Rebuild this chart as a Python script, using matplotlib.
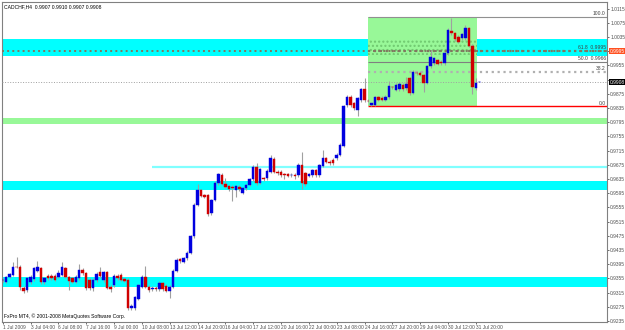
import numpy as np
import matplotlib
matplotlib.use("Agg")
import matplotlib.pyplot as plt
import matplotlib.transforms as mtransforms

plt.rcParams['font.family'] = ['Liberation Sans', 'DejaVu Sans']

# CADCHF H4, July 2009
opens = [0.9350, 0.9346, 0.9358, 0.9365, 0.9388, 0.9386, 0.9329, 0.9322, 0.9346, 0.9352,
         0.9377, 0.9383, 0.9344, 0.9362, 0.9363, 0.9362, 0.9360, 0.9365, 0.9383, 0.9358,
         0.9355, 0.9346, 0.9355, 0.9379, 0.9369, 0.9350, 0.9327, 0.9350, 0.9372, 0.9350,
         0.9372, 0.9332, 0.9336, 0.9362, 0.9365, 0.9353, 0.9350, 0.9271, 0.9271, 0.9298,
         0.9332, 0.9360, 0.9332, 0.9324, 0.9329, 0.9324, 0.9341, 0.9334, 0.9319, 0.9332,
         0.9377, 0.9409, 0.9402, 0.9412, 0.9427, 0.9473, 0.9562, 0.9604, 0.9590, 0.9590,
         0.9538, 0.9576, 0.9623, 0.9646, 0.9621, 0.9615, 0.9613, 0.9604, 0.9613, 0.9596,
         0.9609, 0.9618, 0.9634, 0.9670, 0.9625, 0.9637, 0.9637, 0.9656, 0.9691, 0.9656,
         0.9656, 0.9649, 0.9648, 0.9646, 0.9647, 0.9646, 0.9675, 0.9651, 0.9644, 0.9645,
         0.9660, 0.9646, 0.9672, 0.9693, 0.9684, 0.9689, 0.9693, 0.9703, 0.9728, 0.9843,
         0.9867, 0.9848, 0.9830, 0.9858, 0.9888, 0.9856, 0.9843, 0.9843, 0.9865, 0.9864,
         0.9858, 0.9865, 0.9894, 0.9886, 0.9888, 0.9900, 0.9890, 0.9919, 0.9878, 0.9934,
         0.9934, 0.9928, 0.9906, 0.9953, 0.9961, 0.9970, 0.9965, 0.9961, 0.9989, 1.0053,
         1.0045, 1.0036, 1.0031, 1.0031, 1.0059, 1.0010, 0.9890, 0.9907]
highs = [0.9356, 0.9362, 0.9370, 0.9402, 0.9416, 0.9392, 0.9333, 0.9360, 0.9364, 0.9388,
         0.9404, 0.9388, 0.9360, 0.9366, 0.9368, 0.9367, 0.9379, 0.9400, 0.9388, 0.9362,
         0.9360, 0.9365, 0.9396, 0.9384, 0.9373, 0.9355, 0.9356, 0.9372, 0.9388, 0.9377,
         0.9377, 0.9336, 0.9367, 0.9366, 0.9369, 0.9357, 0.9355, 0.9282, 0.9306, 0.9340,
         0.9365, 0.9391, 0.9336, 0.9334, 0.9333, 0.9348, 0.9345, 0.9338, 0.9336, 0.9381,
         0.9411, 0.9413, 0.9416, 0.9432, 0.9478, 0.9566, 0.9621, 0.9608, 0.9594, 0.9594,
         0.9580, 0.9628, 0.9653, 0.9651, 0.9637, 0.9619, 0.9617, 0.9619, 0.9617, 0.9613,
         0.9622, 0.9638, 0.9674, 0.9681, 0.9667, 0.9641, 0.9662, 0.9703, 0.9696, 0.9660,
         0.9660, 0.9653, 0.9652, 0.9651, 0.9651, 0.9680, 0.9712, 0.9656, 0.9652, 0.9664,
         0.9664, 0.9678, 0.9717, 0.9697, 0.9688, 0.9693, 0.9707, 0.9735, 0.9844, 0.9872,
         0.9872, 0.9853, 0.9866, 0.9892, 0.9919, 0.9860, 0.9849, 0.9869, 0.9869, 0.9868,
         0.9871, 0.9911, 0.9898, 0.9904, 0.9907, 0.9904, 0.9923, 0.9923, 0.9941, 0.9938,
         0.9938, 0.9932, 0.9957, 0.9998, 0.9979, 0.9974, 0.9969, 0.9993, 1.0059, 1.0088,
         1.0049, 1.0040, 1.0047, 1.0069, 1.0063, 1.0014, 0.9919, 0.9910]
lows = [0.9345, 0.9343, 0.9355, 0.9362, 0.9383, 0.9322, 0.9313, 0.9318, 0.9340, 0.9348,
        0.9373, 0.9340, 0.9340, 0.9351, 0.9350, 0.9347, 0.9356, 0.9361, 0.9355, 0.9322,
        0.9341, 0.9341, 0.9350, 0.9365, 0.9322, 0.9321, 0.9320, 0.9345, 0.9357, 0.9346,
        0.9325, 0.9316, 0.9332, 0.9351, 0.9347, 0.9344, 0.9267, 0.9266, 0.9267, 0.9293,
        0.9327, 0.9327, 0.9318, 0.9319, 0.9320, 0.9320, 0.9320, 0.9316, 0.9299, 0.9328,
        0.9373, 0.9399, 0.9398, 0.9408, 0.9423, 0.9469, 0.9558, 0.9583, 0.9581, 0.9531,
        0.9534, 0.9572, 0.9619, 0.9617, 0.9609, 0.9602, 0.9574, 0.9585, 0.9602, 0.9592,
        0.9605, 0.9614, 0.9630, 0.9619, 0.9620, 0.9630, 0.9633, 0.9652, 0.9652, 0.9647,
        0.9642, 0.9635, 0.9640, 0.9641, 0.9634, 0.9642, 0.9606, 0.9616, 0.9640, 0.9640,
        0.9640, 0.9642, 0.9668, 0.9680, 0.9675, 0.9675, 0.9689, 0.9699, 0.9724, 0.9839,
        0.9839, 0.9830, 0.9812, 0.9853, 0.9853, 0.9851, 0.9840, 0.9840, 0.9854, 0.9854,
        0.9854, 0.9861, 0.9889, 0.9882, 0.9884, 0.9884, 0.9886, 0.9872, 0.9874, 0.9929,
        0.9924, 0.9881, 0.9902, 0.9949, 0.9957, 0.9955, 0.9957, 0.9957, 0.9985, 1.0041,
        1.0024, 1.0018, 1.0027, 1.0027, 1.0006, 0.9874, 0.9886, 0.9907]
closes = [0.9351, 0.9358, 0.9366, 0.9388, 0.9387, 0.9332, 0.9320, 0.9355, 0.9358, 0.9383,
          0.9388, 0.9346, 0.9355, 0.9355, 0.9355, 0.9351, 0.9369, 0.9386, 0.9360, 0.9349,
          0.9346, 0.9360, 0.9379, 0.9369, 0.9327, 0.9327, 0.9350, 0.9366, 0.9362, 0.9372,
          0.9329, 0.9326, 0.9362, 0.9355, 0.9351, 0.9348, 0.9271, 0.9277, 0.9302, 0.9335,
          0.9360, 0.9332, 0.9322, 0.9329, 0.9324, 0.9343, 0.9324, 0.9320, 0.9332, 0.9377,
          0.9407, 0.9403, 0.9412, 0.9427, 0.9474, 0.9562, 0.9604, 0.9587, 0.9585, 0.9536,
          0.9576, 0.9623, 0.9648, 0.9621, 0.9613, 0.9606, 0.9609, 0.9615, 0.9606, 0.9609,
          0.9618, 0.9634, 0.9670, 0.9623, 0.9662, 0.9634, 0.9658, 0.9693, 0.9656, 0.9651,
          0.9646, 0.9645, 0.9644, 0.9646, 0.9644, 0.9675, 0.9623, 0.9621, 0.9648, 0.9660,
          0.9645, 0.9674, 0.9693, 0.9684, 0.9679, 0.9679, 0.9703, 0.9731, 0.9840, 0.9867,
          0.9843, 0.9834, 0.9862, 0.9888, 0.9858, 0.9855, 0.9848, 0.9865, 0.9858, 0.9858,
          0.9867, 0.9897, 0.9893, 0.9900, 0.9903, 0.9888, 0.9903, 0.9876, 0.9937, 0.9933,
          0.9928, 0.9904, 0.9953, 0.9979, 0.9975, 0.9959, 0.9961, 0.9989, 1.0055, 1.0045,
          1.0028, 1.0022, 1.0043, 1.0059, 1.0010, 0.9895, 0.9906, 0.9908]

time_labels = ["1 Jul 2009", "3 Jul 04:00", "6 Jul 08:00", "7 Jul 16:00", "9 Jul 00:00",
               "10 Jul 08:00", "13 Jul 12:00", "14 Jul 20:00", "16 Jul 04:00", "17 Jul 12:00",
               "20 Jul 16:00", "22 Jul 00:00", "23 Jul 08:00", "24 Jul 16:00", "27 Jul 20:00",
               "29 Jul 04:00", "30 Jul 12:00", "31 Jul 20:00"]
label_step = 8  # bars between time labels

price_ticks = [0.9235, 0.9275, 0.9315, 0.9355, 0.9395, 0.9435, 0.9475, 0.9515, 0.9555,
               0.9595, 0.9635, 0.9675, 0.9715, 0.9755, 0.9795, 0.9835, 0.9875, 0.9915,
               0.9955, 0.9995, 1.0035, 1.0075, 1.0115]
hidden_ticks = [0.9915, 0.9995]  # covered by the price boxes

# support / resistance zones (low, high)
cyan_zones = [(0.9981, 1.0029), (0.9604, 0.9629), (0.9331, 0.9359)]
green_zone = (0.9790, 0.9807)
thin_line_price = 0.9669
thin_line_start = 43
hline_price = 0.9995
bid_price = 0.9908

# fibonacci retracement
fib_low, fib_high = 0.9840, 1.0091
fib_start, fib_end = 105, 136.3
fib_levels = [0.0, 0.382, 0.5, 0.618, 1.0]
fib_texts = ["0.0", "38.2", "50.0  0.9966", "61.8  0.9995", "100.0"]

fig = plt.figure(figsize=(6.25, 3.30), dpi=100)
ax = fig.add_axes([2 / 625, 8 / 330, 605 / 625, 320 / 330])
ax.set_facecolor("white")

n = len(opens)
x = np.arange(n)
o = np.array(opens); h = np.array(highs); l = np.array(lows); c = np.array(closes)

for lo, hi in cyan_zones:
    ax.axhspan(lo, hi, color="#00FFFF", lw=0, zorder=1)
ax.axhspan(green_zone[0], green_zone[1], color="#98F898", lw=0, zorder=1)
ax.hlines(thin_line_price, thin_line_start, 200, color="#80FFFF", lw=1.6, zorder=1)

# fibo rectangle
ax.fill_between([fib_start, fib_end], fib_low, fib_high, color="#98F898", lw=0, zorder=2)
ax.fill_between([fib_start, fib_end], cyan_zones[0][0] + 0.0004, cyan_zones[0][1],
                facecolor="none", edgecolor="#70C870", hatch="....", lw=0, zorder=2)
fib_styles = {0.0: ("#FF0000", "-", 1.0), 0.382: ("#B0B0B0", ":", 1.6),
              0.5: ("#808080", "-", 0.8), 0.618: ("#807860", ":", 1.6),
              1.0: ("#909090", "-", 0.8)}
trans = mtransforms.blended_transform_factory(ax.transAxes, ax.transData)
for lev, txt in zip(fib_levels, fib_texts):
    p = fib_low + lev * (fib_high - fib_low)
    col, ls, lw = fib_styles[lev]
    ax.hlines(p, fib_start, 200, color=col, ls=ls, lw=lw, zorder=3)
    ax.text(0.998, p + 0.0002, txt, transform=trans, ha="right", va="bottom",
            fontsize=3.6, color="#404040", zorder=6)

# horizontal line and bid line across the chart
ax.axhline(hline_price, color="#807860", ls=":", lw=1.4, zorder=3)
ax.axhline(bid_price, color="#A0A0A0", ls=":", lw=0.7, zorder=3)

# candles
bull = c >= o
ax.vlines(x, l, h, color="#A0A0A0", lw=0.8, zorder=4)
body_lo = np.minimum(o, c)
body_h = np.maximum(np.abs(c - o), 0.00004)
colors = np.where(bull, "#0000E0", "#D00000")
ax.bar(x, body_h, bottom=body_lo, width=0.72, color=colors, edgecolor=colors,
       lw=0.3, zorder=5)

ax.set_xlim(-0.2, 173.7)
ax.set_ylim(0.92321, 1.01336)

ax.yaxis.tick_right()
ax.set_yticks(price_ticks)
ax.set_yticklabels(["" if t in hidden_ticks else f"{t:.4f}" for t in price_ticks])
ax.set_xticks(np.arange(len(time_labels)) * label_step)
ax.set_xticklabels(time_labels)
ax.tick_params(axis="both", length=1.5, width=0.6, colors="#505050", labelsize=3.5,
               pad=0.8)
for lab in ax.get_xticklabels():
    lab.set_horizontalalignment("left")
for s in ax.spines.values():
    s.set_color("#808080")
    s.set_linewidth(0.8)

# price boxes on the axis
box_kw = dict(transform=trans, ha="left", va="center", fontsize=3.5, clip_on=False,
              zorder=10)
ax.text(1.004, hline_price, f"{hline_price:.4f}", color="white",
        bbox=dict(boxstyle="square,pad=0.15", fc="#FF5020", ec="none"), **box_kw)
ax.text(1.004, bid_price, f"{bid_price:.4f}", color="white",
        bbox=dict(boxstyle="square,pad=0.15", fc="black", ec="none"), **box_kw)

ax.text(0.004, 0.992, "CADCHF,H4  0.9907 0.9910 0.9907 0.9908", transform=ax.transAxes,
        ha="left", va="top", fontsize=3.6, color="black", zorder=10)
ax.text(0.003, 0.01, "FxPro MT4, \u00a9 2001-2008 MetaQuotes Software Corp.",
        transform=ax.transAxes, ha="left", va="bottom", fontsize=3.6, color="black",
        zorder=10)

fig.savefig("out.png", dpi=100, facecolor="white")
